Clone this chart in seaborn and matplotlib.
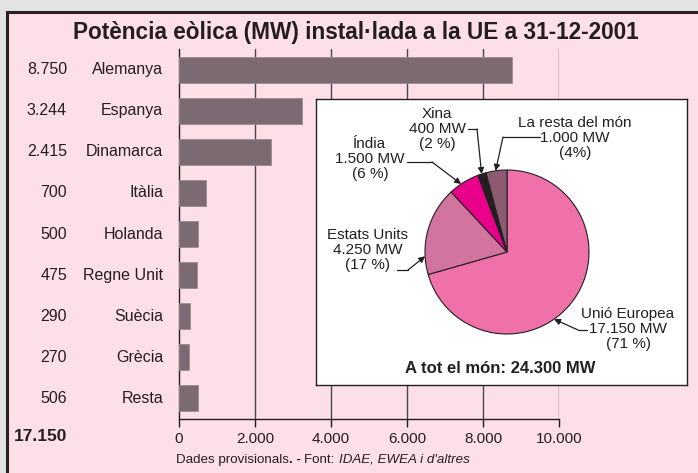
import numpy as np
import matplotlib
matplotlib.use('Agg')
import matplotlib.pyplot as plt
from matplotlib.patches import Rectangle
import seaborn as sns

# Data
countries = ['Alemanya', 'Espanya', 'Dinamarca', 'Itàlia', 'Holanda',
             'Regne Unit', 'Suècia', 'Grècia', 'Resta']
mw = [8750, 3244, 2415, 700, 500, 475, 290, 270, 506]
eu_total = 17150
x_ticks = [0, 2000, 4000, 6000, 8000, 10000]

pie_names = ['Unió Europea', 'Estats Units', 'Índia', 'Xina', 'La resta del món']
pie_mw = [17150, 4250, 1500, 400, 1000]
pie_pct = ['(71 %)', '(17 %)', '(6 %)', '(2 %)', '(4%)']
world_total = 24300


def fmt(v):
    return f'{v:,}'.replace(',', '.')


sns.set_style('white')
plt.rcParams['font.family'] = ['Liberation Sans', 'DejaVu Sans']

ink = '#231f20'
pink = '#fddfe8'
bar_col = '#7c6a72'
pie_cols = ['#f070aa', '#d274a0', '#e8008a', '#231f20', '#8c5a72']

W, H = 698, 473
fig = plt.figure(figsize=(W / 100, H / 100), dpi=100)
fig.patch.set_facecolor('#e3e3e3')

# pink frame
fig.patches.append(Rectangle((7 / W, -0.1), 1.2, 1 - 12 / H + 0.1,
                             transform=fig.transFigure, facecolor=pink,
                             edgecolor='#2a1f22', linewidth=2.2, zorder=-5))

fig.text(356 / W, 1 - 32 / H, 'Potència eòlica (MW) instal·lada a la UE a 31-12-2001',
         ha='center', va='center', fontsize=16.3, fontweight='bold', color=ink)

# bar chart
ax = fig.add_axes([179 / W, 1 - 419 / H, 380 / W, 370 / H])
ax.set_zorder(2)
ax.set_facecolor('none')
sns.barplot(x=mw, y=countries, orient='h', color=bar_col, width=0.63,
            saturation=1, edgecolor='#9a8a92', linewidth=0.6, ax=ax, zorder=3)
ax.set_xlim(0, 10000)
ax.set_ylim(8.5, -0.5)
ax.set_xticks(x_ticks)
ax.set_xticklabels([fmt(t) for t in x_ticks], fontsize=11, color=ink)
ax.tick_params(axis='x', direction='out', length=6, width=1, color=ink, pad=3,
               bottom=True)
ax.set_yticks([])
ax.set_xlabel('')
ax.set_ylabel('')
for t in x_ticks[1:]:
    ax.axvline(t, color='#4a4548', linewidth=1, zorder=1)
for s in ['top', 'right']:
    ax.spines[s].set_visible(False)
for s in ['left', 'bottom']:
    ax.spines[s].set_color(ink)
    ax.spines[s].set_linewidth(1)

tr = ax.get_yaxis_transform()
for i, (c, v) in enumerate(zip(countries, mw)):
    ax.text(-0.042, i, c, transform=tr, ha='right', va='center', fontsize=11.5, color=ink)
    ax.text(-0.295, i, fmt(v), transform=tr, ha='right', va='center', fontsize=11.5, color=ink)
ax.text(-0.295, -0.048, fmt(eu_total), transform=ax.transAxes, ha='right', va='center',
        fontsize=12.5, fontweight='bold', color=ink)

# footer
t = ax.text(-0.008, -0.118, 'Dades provisionals', transform=ax.transAxes,
            ha='left', va='baseline', fontsize=9.6, color=ink)
for txt, kw in [('. - ', dict(fontweight='bold')), ('Font: ', {}),
                ('IDAE, EWEA i d\'altres', dict(style='italic'))]:
    t = ax.annotate(txt, xy=(1, 0), xycoords=t, ha='left', va='bottom',
                    fontsize=9.6, color=ink, **kw)

# pie inset (data coords = figure pixels, y up)
px0, px1, py0, py1 = 316, 687, 99, 385
pax = fig.add_axes([px0 / W, 1 - py1 / H, (px1 - px0) / W, (py1 - py0) / H])
pax.set_zorder(5)
cx, cy, r = 507, H - 252, 82
wedges, _ = pax.pie(pie_mw, colors=pie_cols, startangle=90, counterclock=False,
                    center=(cx, cy), radius=r, frame=True,
                    wedgeprops=dict(edgecolor=ink, linewidth=0.8))
pax.set_xlim(px0, px1)
pax.set_ylim(H - py1, H - py0)
pax.set_aspect('auto')
pax.set_xticks([])
pax.set_yticks([])
pax.set_facecolor('white')
for s in pax.spines.values():
    s.set_color(ink)
    s.set_linewidth(1)

label_pos = [(628, 329), (368, 250), (370, 159), (437, 129), (575, 138)]
arrows = [((587, 330), (578, 330), -55), ((397, 270), (408, 270), 183),
          ((407, 162), (432, 162), 124), ((468, 129), (477, 129), 108),
          ((540, 137), (503, 137), 98)]
for name, v, pct, (lx, ly), (p0, p1, ang) in zip(pie_names, pie_mw, pie_pct, label_pos, arrows):
    pax.text(lx, H - ly, f'{name}\n{fmt(v)} MW\n{pct}', ha='center', va='center',
             fontsize=11, color=ink, linespacing=1.05)
    pax.plot([p0[0], p1[0]], [H - p0[1], H - p1[1]], color=ink, lw=0.9)
    tip = (cx + r * np.cos(np.radians(ang)), cy + r * np.sin(np.radians(ang)))
    pax.annotate('', xy=tip, xytext=(p1[0], H - p1[1]),
                 arrowprops=dict(arrowstyle='-|>', color=ink, lw=0.9,
                                 mutation_scale=9, shrinkA=0, shrinkB=0))

pax.text(500, H - 368, f'A tot el món: {fmt(world_total)} MW', ha='center', va='center',
         fontsize=12, fontweight='bold', color=ink)

fig.savefig('out.png', dpi=100, facecolor=fig.get_facecolor())
